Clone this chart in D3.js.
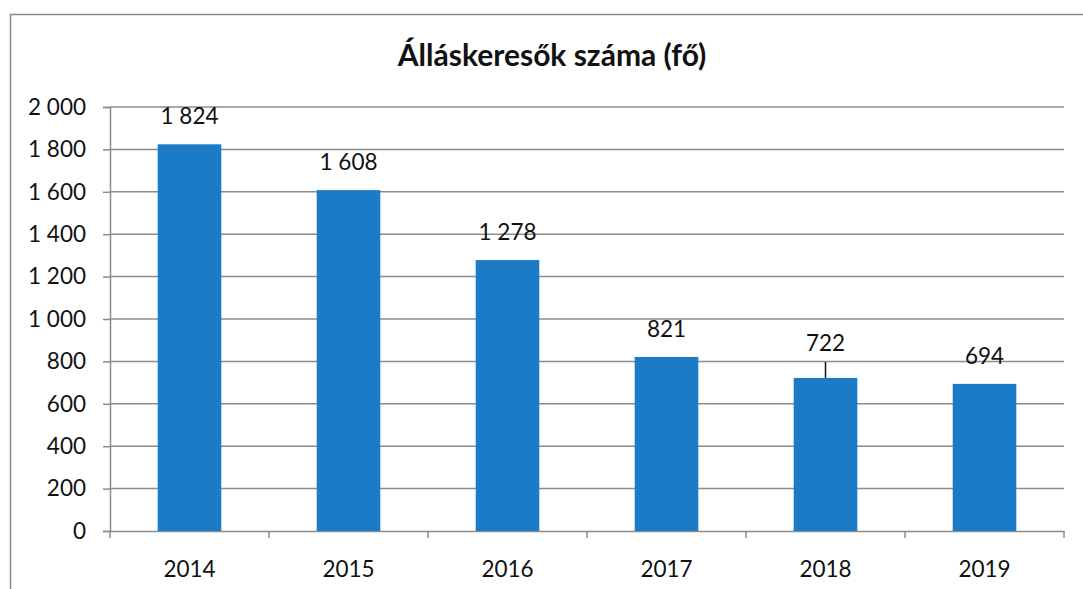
<!DOCTYPE html>
<html>
<head>
<meta charset="utf-8">
<script src="https://cdn.jsdelivr.net/npm/d3@7"></script>
<style>
  html, body { margin: 0; padding: 0; background: #fff; }
  svg { display: block; font-family: Lato, "Open Sans", sans-serif; }
</style>
</head>
<body>
<div id="chart"></div>
<script>
const years = ['2014', '2015', '2016', '2017', '2018', '2019'];
const jobseekers = [1824, 1608, 1278, 821, 722, 694];
const yTicks = [0, 200, 400, 600, 800, 1000, 1200, 1400, 1600, 1800, 2000];
const title = 'Álláskeresők száma (fő)';

const width = 1083;
const height = 589;
const plot = { left: 110, right: 1064, top: 107, bottom: 531 };
const barColor = '#1b7bc6';
const gridColor = '#8c8c8c';
const textColor = '#111';
const labelSize = 22.5;
// 2018 label sits a bit higher with a small leader line, as in the original
const liftedLabels = { 2018: 7 };

const hu = d3.formatLocale({ decimal: ',', thousands: ' ', grouping: [3], currency: ['', ''] });
const fmt = hu.format(',d');

const svg = d3.select('#chart').append('svg')
  .attr('width', width)
  .attr('height', height);

// chart frame (runs off the page on the right and bottom)
svg.append('rect')
  .attr('x', 10.5)
  .attr('y', 14.5)
  .attr('width', 1100)
  .attr('height', 620)
  .attr('fill', 'none')
  .attr('stroke', '#8a8a8a')
  .attr('stroke-width', 1.5);

svg.append('text')
  .attr('x', 552)
  .attr('y', 66)
  .attr('text-anchor', 'middle')
  .attr('font-size', 30)
  .attr('font-weight', 700)
  .attr('fill', textColor)
  .text(title);

const xScale = d3.scaleBand()
  .domain(years)
  .range([plot.left, plot.right]);

const yScale = d3.scaleLinear()
  .domain([0, 2000])
  .range([plot.bottom, plot.top]);

// gridlines
svg.append('g')
  .selectAll('line')
  .data(yTicks.filter(d => d > 0))
  .enter().append('line')
  .attr('x1', plot.left)
  .attr('x2', plot.right)
  .attr('y1', d => yScale(d))
  .attr('y2', d => yScale(d))
  .attr('stroke', gridColor)
  .attr('stroke-width', 1.5);

// y axis
const yAxis = svg.append('g')
  .attr('transform', `translate(${plot.left},0)`)
  .call(d3.axisLeft(yScale).tickValues(yTicks).tickFormat(fmt).tickSize(7).tickPadding(17));
yAxis.select('.domain').attr('stroke', gridColor).attr('stroke-width', 1.5);
yAxis.selectAll('.tick line').attr('stroke', gridColor).attr('stroke-width', 1.5);
yAxis.selectAll('.tick text')
  .attr('font-size', labelSize)
  .attr('font-family', 'Lato, sans-serif')
  .attr('fill', textColor);

// x axis with ticks between categories
const xAxis = svg.append('g')
  .attr('transform', `translate(0,${plot.bottom})`)
  .call(d3.axisBottom(xScale).tickSize(0).tickPadding(30));
xAxis.select('.domain').attr('stroke', gridColor).attr('stroke-width', 1.5);
xAxis.selectAll('.tick text')
  .attr('font-size', labelSize)
  .attr('font-family', 'Lato, sans-serif')
  .attr('fill', textColor);
xAxis.selectAll('.sep')
  .data(d3.range(years.length + 1))
  .enter().append('line')
  .attr('class', 'sep')
  .attr('x1', i => plot.left + i * xScale.step())
  .attr('x2', i => plot.left + i * xScale.step())
  .attr('y1', 0)
  .attr('y2', 7)
  .attr('stroke', gridColor)
  .attr('stroke-width', 1.5);

// bars
const barW = xScale.bandwidth() * 0.4;
const bars = svg.append('g')
  .selectAll('g')
  .data(years.map((y, i) => ({ year: y, value: jobseekers[i] })))
  .enter().append('g');

bars.append('rect')
  .attr('x', d => xScale(d.year) + (xScale.bandwidth() - barW) / 2)
  .attr('y', d => yScale(d.value))
  .attr('width', barW)
  .attr('height', d => yScale(0) - yScale(d.value))
  .attr('fill', barColor);

bars.append('text')
  .attr('x', d => xScale(d.year) + xScale.bandwidth() / 2)
  .attr('y', d => yScale(d.value) - 20 - (liftedLabels[d.year] || 0))
  .attr('text-anchor', 'middle')
  .attr('font-size', labelSize)
  .attr('fill', textColor)
  .text(d => fmt(d.value));

bars.filter(d => liftedLabels[d.year])
  .append('line')
  .attr('x1', d => xScale(d.year) + xScale.bandwidth() / 2)
  .attr('x2', d => xScale(d.year) + xScale.bandwidth() / 2)
  .attr('y1', d => yScale(d.value) - 16)
  .attr('y2', d => yScale(d.value))
  .attr('stroke', textColor)
  .attr('stroke-width', 1.5);
</script>
</body>
</html>
